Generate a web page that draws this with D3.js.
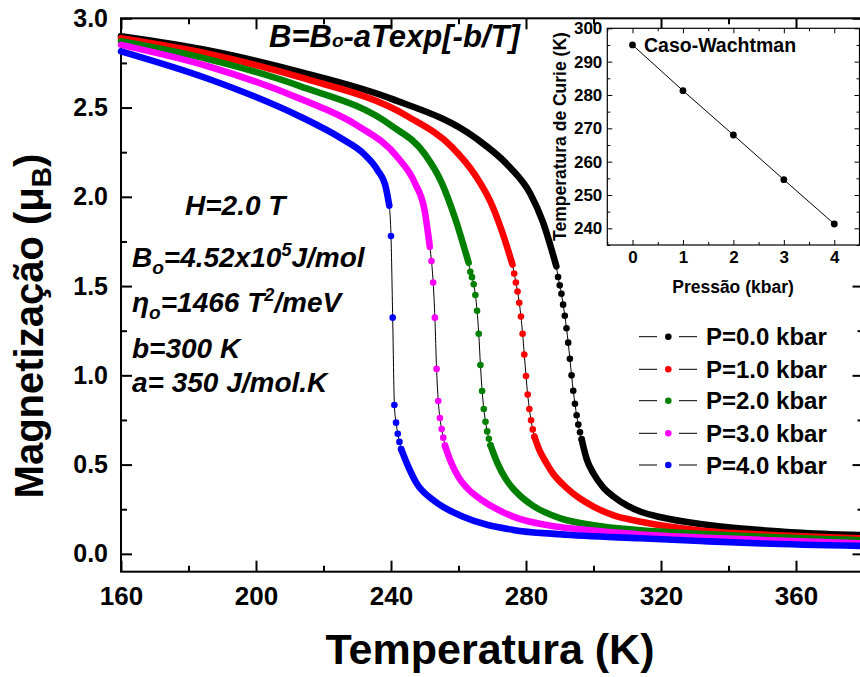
<!DOCTYPE html>
<html>
<head>
<meta charset="utf-8">
<script src="https://cdn.jsdelivr.net/npm/d3@7"></script>
<style>
  body { margin: 0; background: #fff; }
  svg { display: block; }
  text { font-family: "Liberation Sans", Arial, sans-serif; font-weight: bold; fill: #000; }
</style>
</head>
<body>
<svg id="chart" width="860" height="677"></svg>
<script>
// series labels and colours
const labels = ['P=0.0 kbar', 'P=1.0 kbar', 'P=2.0 kbar', 'P=3.0 kbar', 'P=4.0 kbar'];
const colors = ['#000000', '#ff0000', '#008000', '#ff00ff', '#0000ff'];

// ferromagnetic branch (dense points, drawn as a band) [T, M]
const upper0 = [[160,2.90],[186,2.82],[213,2.70],[240,2.55],[265,2.33],[275,2.17],[281.2,2.02],[285,1.86],[289,1.61]];
const upper1 = [[160,2.888],[186,2.80],[213,2.67],[245,2.45],[258,2.28],[265,2.12],[270,1.95],[273,1.80],[276,1.62]];
const upper2 = [[160,2.871],[186,2.77],[213,2.62],[240,2.40],[250,2.24],[255,2.08],[259,1.88],[263,1.63]];
const upper3 = [[160,2.851],[186,2.73],[213,2.55],[230,2.40],[242,2.22],[247,2.08],[250,1.92],[251.5,1.72]];
const upper4 = [[160,2.815],[186,2.66],[213,2.45],[225,2.33],[232,2.24],[236,2.15],[238.5,2.05],[239.5,1.95]];

// transition points, 0.5 K apart, drawn as single dots
const steep0 = [[289.5,1.551],[290,1.504],[290.5,1.457],[291,1.396],[291.5,1.334],[292,1.264],[292.5,1.183],[293,1.093],[293.5,1.000],[294,0.914],[294.5,0.841],[295,0.776],[295.5,0.724],[296,0.681],[296.5,0.642]];
const steep1 = [[276.5,1.57],[277,1.52],[277.5,1.47],[278,1.407],[278.5,1.329],[279,1.233],[279.5,1.116],[280,0.996],[280.5,0.892],[281,0.811],[281.5,0.748],[282,0.697],[282.5,0.656]];
const steep2 = [[263.5,1.58],[264,1.55],[264.5,1.51],[265,1.45],[265.5,1.362],[266,1.233],[266.5,1.058],[267,0.912],[267.5,0.811],[268,0.740],[268.5,0.686],[269,0.645],[269.5,0.608]];
const steep3 = [[252,1.64],[252.5,1.52],[253,1.323],[253.5,1.036],[254,0.856],[254.5,0.761],[255,0.699],[255.5,0.651],[256,0.606]];
const steep4 = [[240,1.78],[240.5,1.323],[241,0.834],[241.5,0.735],[242,0.673],[242.5,0.627],[243,0.587]];

// paramagnetic branch (dense points, drawn as a band) [T, M]
const lower0 = [[296.5,0.642],[297,0.60],[298,0.53],[300,0.45],[303,0.37],[306,0.32],[310,0.27],[314,0.236],[320,0.205],[331.6,0.167],[345,0.14],[360,0.12],[380,0.104]];
const lower1 = [[282.5,0.656],[284,0.58],[286,0.51],[288,0.45],[292,0.37],[296,0.31],[300,0.265],[306,0.215],[314,0.18],[331.6,0.131],[350,0.108],[380,0.087]];
const lower2 = [[269.5,0.608],[271.5,0.51],[274,0.42],[278,0.33],[282,0.27],[290,0.20],[300,0.16],[314,0.132],[331.6,0.112],[350,0.095],[380,0.076]];
const lower3 = [[256,0.606],[257.5,0.526],[260,0.43],[263,0.36],[267,0.30],[276,0.21],[290,0.15],[300,0.13],[314,0.108],[331.6,0.092],[350,0.078],[380,0.058]];
const lower4 = [[243,0.587],[244.7,0.507],[247.6,0.395],[252.6,0.30],[261.4,0.208],[276.2,0.134],[290,0.11],[313.8,0.087],[331.6,0.072],[350,0.058],[380,0.044]];

// inset: Curie temperature vs pressure
const pressure = [0, 1, 2, 3, 4];
const curieT = [295, 281.3, 268, 254.6, 241.3];

const xTicks = [160, 200, 240, 280, 320, 360];
const yTicks = [0, 0.5, 1.0, 1.5, 2.0, 2.5, 3.0];

const uppers = [upper0, upper1, upper2, upper3, upper4];
const steeps = [steep0, steep1, steep2, steep3, steep4];
const lowers = [lower0, lower1, lower2, lower3, lower4];

const svg = d3.select('#chart');
svg.append('rect').attr('width', 860).attr('height', 677).attr('fill', '#fff');

const pLeft = 121, pRight = 863.5, pTop = 18.3, pBottom = 571.7;
const x = d3.scaleLinear().domain([160, 380]).range([pLeft, pRight]);
const y = d3.scaleLinear().domain([-0.1, 3.0]).range([pBottom, pTop]);

const minorX = d3.range(180, 381, 40);
const minorY = d3.range(0.25, 3, 0.5);

function styleAxis(g, w) {
  g.select('.domain').remove();
  g.selectAll('.tick line').attr('stroke', '#000').attr('stroke-width', w);
}

// major + minor ticks on all four sides, pointing in
const bottomAxis = svg.append('g').attr('transform', `translate(0,${pBottom})`)
  .call(d3.axisBottom(x).tickValues(xTicks).tickSize(-11).tickPadding(15).tickFormat(d3.format('d')));
styleAxis(bottomAxis, 2);
bottomAxis.selectAll('text').attr('font-size', 26).attr('font-family', '"Liberation Sans", Arial, sans-serif');
styleAxis(svg.append('g').attr('transform', `translate(0,${pBottom})`)
  .call(d3.axisBottom(x).tickValues(minorX).tickSize(-6).tickFormat('')), 2);
styleAxis(svg.append('g').attr('transform', `translate(0,${pTop})`)
  .call(d3.axisTop(x).tickValues(xTicks).tickSize(-11).tickFormat('')), 2);
styleAxis(svg.append('g').attr('transform', `translate(0,${pTop})`)
  .call(d3.axisTop(x).tickValues(minorX).tickSize(-6).tickFormat('')), 2);

const leftAxis = svg.append('g').attr('transform', `translate(${pLeft},0)`)
  .call(d3.axisLeft(y).tickValues(yTicks).tickSize(-11).tickPadding(13).tickFormat(d3.format('.1f')));
styleAxis(leftAxis, 2);
leftAxis.selectAll('text').attr('font-size', 25).attr('font-family', '"Liberation Sans", Arial, sans-serif');
styleAxis(svg.append('g').attr('transform', `translate(${pLeft},0)`)
  .call(d3.axisLeft(y).tickValues(minorY).tickSize(-6).tickFormat('')), 2);
styleAxis(svg.append('g').attr('transform', `translate(${pRight},0)`)
  .call(d3.axisRight(y).tickValues(yTicks).tickSize(-11).tickFormat('')), 2);
styleAxis(svg.append('g').attr('transform', `translate(${pRight},0)`)
  .call(d3.axisRight(y).tickValues(minorY).tickSize(-6).tickFormat('')), 2);

svg.append('rect')
  .attr('x', pLeft).attr('y', pTop).attr('width', pRight - pLeft).attr('height', pBottom - pTop)
  .attr('fill', 'none').attr('stroke', '#000').attr('stroke-width', 2);

// curves
const line = d3.line().x(d => x(d[0])).y(d => y(d[1])).curve(d3.curveMonotoneX);
const plot = svg.append('g');
uppers.forEach((up, i) => {
  const all = up.concat(steeps[i], lowers[i]);
  const g = plot.append('g');
  g.append('path').attr('d', line(all)).attr('fill', 'none').attr('stroke', '#000').attr('stroke-width', 1);
  [up, lowers[i]].forEach(part => {
    g.append('path').attr('d', line(part)).attr('fill', 'none')
      .attr('stroke', colors[i]).attr('stroke-width', 6.6)
      .attr('stroke-linecap', 'round').attr('stroke-linejoin', 'round');
  });
  g.selectAll('circle').data(steeps[i]).join('circle')
    .attr('cx', d => x(d[0])).attr('cy', d => y(d[1])).attr('r', 3.3)
    .attr('fill', colors[i]);
});

// axis titles
svg.append('text').attr('x', 490).attr('y', 664).attr('text-anchor', 'middle')
  .attr('font-size', 43).style('font-family', '"Liberation Sans Narrow", "Arial Narrow", sans-serif')
  .text('Temperatura (K)');
const ytitle = svg.append('text').attr('transform', 'translate(43,326) rotate(-90)')
  .attr('text-anchor', 'middle').attr('font-size', 40);
ytitle.append('tspan').text('Magnetização (μ');
ytitle.append('tspan').attr('font-size', 28).attr('dy', 8).text('B');
ytitle.append('tspan').attr('dy', -8).text(')');

// annotations
const note = (xx, yy, size) => svg.append('text').attr('x', xx).attr('y', yy)
  .attr('font-size', size).attr('font-style', 'italic');
const f = note(269, 47, 31);
f.append('tspan').text('B=B');
f.append('tspan').attr('font-size', 19).text('o');
f.append('tspan').text('-aTexp[-b/T]');

note(185, 215, 28).text('H=2.0 T');
const b0 = note(132, 267, 28);
b0.append('tspan').text('B');
b0.append('tspan').attr('font-size', 19).attr('dy', 7).text('o');
b0.append('tspan').attr('dy', -7).text('=4.52x10');
b0.append('tspan').attr('font-size', 18).attr('dy', -11).text('5');
b0.append('tspan').attr('dy', 11).text('J/mol');
const eta = note(132, 312, 28);
eta.append('tspan').text('η');
eta.append('tspan').attr('font-size', 19).attr('dy', 7).text('o');
eta.append('tspan').attr('dy', -7).text('=1466 T');
eta.append('tspan').attr('font-size', 18).attr('dy', -11).text('2');
eta.append('tspan').attr('dy', 11).text('/meV');
note(132, 358, 28).text('b=300 K');
note(132, 392, 28).text('a= 350 J/mol.K');

// legend
const legendY = [336.7, 369.3, 400.7, 433.3, 465];
labels.forEach((lab, i) => {
  const g = svg.append('g').attr('transform', `translate(0,${legendY[i]})`);
  g.append('line').attr('x1', 639).attr('x2', 657).attr('stroke', '#000').attr('stroke-width', 1);
  g.append('line').attr('x1', 679).attr('x2', 697).attr('stroke', '#000').attr('stroke-width', 1);
  g.append('circle').attr('cx', 668.3).attr('r', 3.3).attr('fill', colors[i]);
  g.append('text').attr('x', 706).attr('y', 8.5).attr('font-size', 24).text(lab);
});

// inset
const ix = d3.scaleLinear().domain([-0.5, 4.5]).range([607.3, 859.5]);
const iy = d3.scaleLinear().domain([235, 300]).range([245, 28.3]);
const inset = svg.append('g');
inset.append('rect').attr('x', 607.3).attr('y', 28.3).attr('width', 252.2).attr('height', 216.7)
  .attr('fill', '#fff');
const iAx = [
  [d3.axisBottom(ix).tickValues(pressure).tickSize(-5).tickPadding(6).tickFormat(d3.format('d')), `translate(0,245)`],
  [d3.axisBottom(ix).tickValues(d3.range(-0.5, 4.6, 1)).tickSize(-3).tickFormat(''), `translate(0,245)`],
  [d3.axisTop(ix).tickValues(pressure).tickSize(-5).tickFormat(''), `translate(0,28.3)`],
  [d3.axisTop(ix).tickValues(d3.range(-0.5, 4.6, 1)).tickSize(-3).tickFormat(''), `translate(0,28.3)`],
  [d3.axisLeft(iy).tickValues(d3.range(240, 301, 10)).tickSize(-5).tickPadding(5).tickFormat(d3.format('d')), `translate(607.3,0)`],
  [d3.axisLeft(iy).tickValues(d3.range(235, 300, 10)).tickSize(-3).tickFormat(''), `translate(607.3,0)`],
  [d3.axisRight(iy).tickValues(d3.range(240, 301, 10)).tickSize(-5).tickFormat(''), `translate(859.5,0)`],
  [d3.axisRight(iy).tickValues(d3.range(235, 300, 10)).tickSize(-3).tickFormat(''), `translate(859.5,0)`]
];
iAx.forEach(([ax, tr]) => {
  const g = inset.append('g').attr('transform', tr).call(ax);
  styleAxis(g, 1);
  g.selectAll('text').attr('font-size', 17).attr('font-family', '"Liberation Sans", Arial, sans-serif');
});
inset.append('rect').attr('x', 607.3).attr('y', 28.3).attr('width', 252.2).attr('height', 216.7)
  .attr('fill', 'none').attr('stroke', '#000').attr('stroke-width', 1.2);
const ipts = pressure.map((p, i) => [p, curieT[i]]);
inset.append('path')
  .attr('d', d3.line().x(d => ix(d[0])).y(d => iy(d[1]))(ipts))
  .attr('fill', 'none').attr('stroke', '#000').attr('stroke-width', 1);
inset.selectAll('circle').data(ipts).join('circle')
  .attr('cx', d => ix(d[0])).attr('cy', d => iy(d[1])).attr('r', 3.4).attr('fill', '#000');
inset.append('text').attr('x', 644).attr('y', 52).attr('font-size', 19.5).text('Caso-Wachtman');
inset.append('text').attr('x', 733).attr('y', 293).attr('text-anchor', 'middle').attr('font-size', 17.5)
  .text('Pressão (kbar)');
inset.append('text').attr('transform', 'translate(566,136.5) rotate(-90)')
  .attr('text-anchor', 'middle').attr('font-size', 17.5).text('Temperatura de Curie (K)');
</script>
</body>
</html>
